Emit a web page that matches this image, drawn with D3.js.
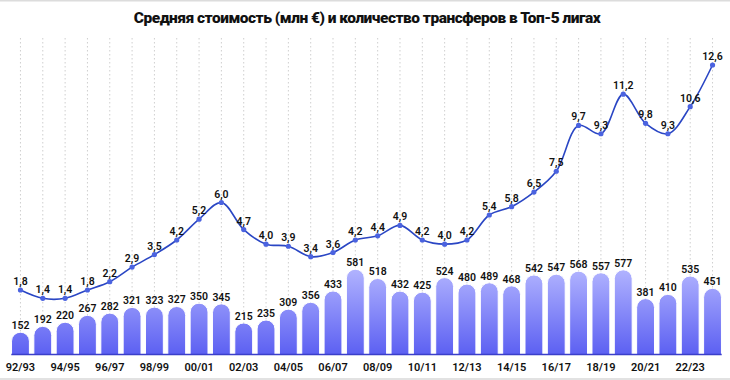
<!DOCTYPE html>
<html>
<head>
<meta charset="utf-8">
<script src="https://cdn.jsdelivr.net/npm/d3@7"></script>
<style>
  html, body { margin: 0; padding: 0; background: #fff; }
  svg { display: block; }
</style>
</head>
<body>
<svg id="chart" width="730" height="380"></svg>
<script>
const seasons = ["92/93","93/94","94/95","95/96","96/97","97/98","98/99","99/00","00/01","01/02",
  "02/03","03/04","04/05","05/06","06/07","07/08","08/09","09/10","10/11","11/12",
  "12/13","13/14","14/15","15/16","16/17","17/18","18/19","19/20","20/21","21/22","22/23","23/24"];
const transfers = [152,192,220,267,282,321,323,327,350,345,215,235,309,356,433,581,518,432,425,524,
  480,489,468,542,547,568,557,577,381,410,535,451];
const avgCost = [1.8,1.4,1.4,1.8,2.2,2.9,3.5,4.2,5.2,6.0,4.7,4.0,3.9,3.4,3.6,4.2,4.4,4.9,4.2,4.0,
  4.2,5.4,5.8,6.5,7.5,9.7,9.3,11.2,9.8,9.3,10.6,12.6];
const tickLabels = seasons.filter((d, i) => i % 2 === 0);
const title = "Средняя стоимость (млн €) и количество трансферов в Топ-5 лигах";

const svg = d3.select("#chart");
const W = 730, H = 380;
const baseY = 354.5;
const FONT = "Roboto, 'Liberation Sans', sans-serif";

// frame lines
svg.append("rect").attr("x", 0).attr("y", 0).attr("width", W).attr("height", 1.5).attr("fill", "#dcdcdc");
svg.append("rect").attr("x", 0).attr("y", 378).attr("width", W).attr("height", 2).attr("fill", "#e2e2e2");

const x = d3.scaleBand().domain(seasons).range([9.3, 723.7]).paddingInner(0.2).paddingOuter(0.1);
const yBar = d3.scaleLinear().domain([0, 600]).range([baseY, baseY - 0.1468 * 600]);
const yLine = d3.scaleLinear().domain([0, 12.6]).range([327.5, 65]);

// gradient
const defs = svg.append("defs");
const grad = defs.append("linearGradient").attr("id", "barGrad")
  .attr("gradientUnits", "userSpaceOnUse")
  .attr("x1", 0).attr("x2", 0).attr("y1", yBar(600)).attr("y2", baseY);
grad.append("stop").attr("offset", "0%").attr("stop-color", "#b4b6ff");
grad.append("stop").attr("offset", "100%").attr("stop-color", "#5c60f2");

// title
svg.append("text")
  .attr("x", 367).attr("y", 23)
  .attr("text-anchor", "middle")
  .attr("font-family", FONT)
  .attr("font-weight", 900)
  .attr("font-size", 15.5)
  .attr("letter-spacing", "-0.5px")
  .attr("fill", "#111")
  .text(title);

// vertical dotted gridlines
svg.append("g").selectAll("line").data(seasons).join("line")
  .attr("x1", d => x(d) + x.bandwidth() / 2)
  .attr("x2", d => x(d) + x.bandwidth() / 2)
  .attr("y1", 38).attr("y2", baseY)
  .attr("stroke", "#cfcfcf")
  .attr("stroke-width", 1)
  .attr("stroke-dasharray", "1.5,2.5");

// bars with rounded tops
const bw = x.bandwidth();
const r = bw / 2;
function barPath(d, i) {
  const x0 = x(seasons[i]), x1 = x0 + bw;
  const top = yBar(d);
  const rr = Math.min(r, baseY - top);
  return `M${x0},${baseY} L${x0},${top + rr} A${r},${rr} 0 0 1 ${x1},${top + rr} L${x1},${baseY} Z`;
}
svg.append("g").selectAll("path").data(transfers).join("path")
  .attr("d", (d, i) => barPath(d, i))
  .attr("fill", "url(#barGrad)")
  .attr("stroke", "#ffffff")
  .attr("stroke-width", 1);

// baseline
svg.append("line")
  .attr("x1", x.range()[0] + 2).attr("x2", x.range()[1] - 2)
  .attr("y1", baseY).attr("y2", baseY)
  .attr("stroke", "#3b3fc9").attr("stroke-width", 1.5);

// bar labels
svg.append("g").selectAll("text").data(transfers).join("text")
  .attr("x", (d, i) => x(seasons[i]) + bw / 2)
  .attr("y", d => yBar(d) - 3)
  .attr("text-anchor", "middle")
  .attr("font-family", FONT)
  .attr("font-weight", 600)
  .attr("font-size", 10.5)
  .attr("fill", "#111")
  .text(d => d);

// line
const line = d3.line()
  .x((d, i) => x(seasons[i]) + bw / 2)
  .y(d => yLine(d))
  .curve(d3.curveCatmullRom.alpha(0.5));
svg.append("path").datum(avgCost)
  .attr("d", line)
  .attr("fill", "none")
  .attr("stroke", "#2a46c4")
  .attr("stroke-width", 1.6);

svg.append("g").selectAll("circle").data(avgCost).join("circle")
  .attr("cx", (d, i) => x(seasons[i]) + bw / 2)
  .attr("cy", d => yLine(d))
  .attr("r", 2.6)
  .attr("fill", "#4b63e0");

// line labels
svg.append("g").selectAll("text").data(avgCost).join("text")
  .attr("x", (d, i) => x(seasons[i]) + bw / 2)
  .attr("y", d => yLine(d) - 5)
  .attr("text-anchor", "middle")
  .attr("font-family", FONT)
  .attr("font-weight", 600)
  .attr("font-size", 10.5)
  .attr("fill", "#111")
  .text(d => d.toFixed(1).replace(".", ","));

// x axis labels
const axis = d3.axisBottom(x).tickValues(tickLabels).tickSize(0).tickPadding(0);
const gAxis = svg.append("g").attr("transform", `translate(0, ${baseY + 16.5})`).call(axis);
gAxis.select(".domain").remove();
gAxis.selectAll("text")
  .attr("dy", 0)
  .attr("font-family", FONT)
  .attr("font-weight", 600)
  .attr("font-size", 11)
  .attr("fill", "#111");
</script>
</body>
</html>
